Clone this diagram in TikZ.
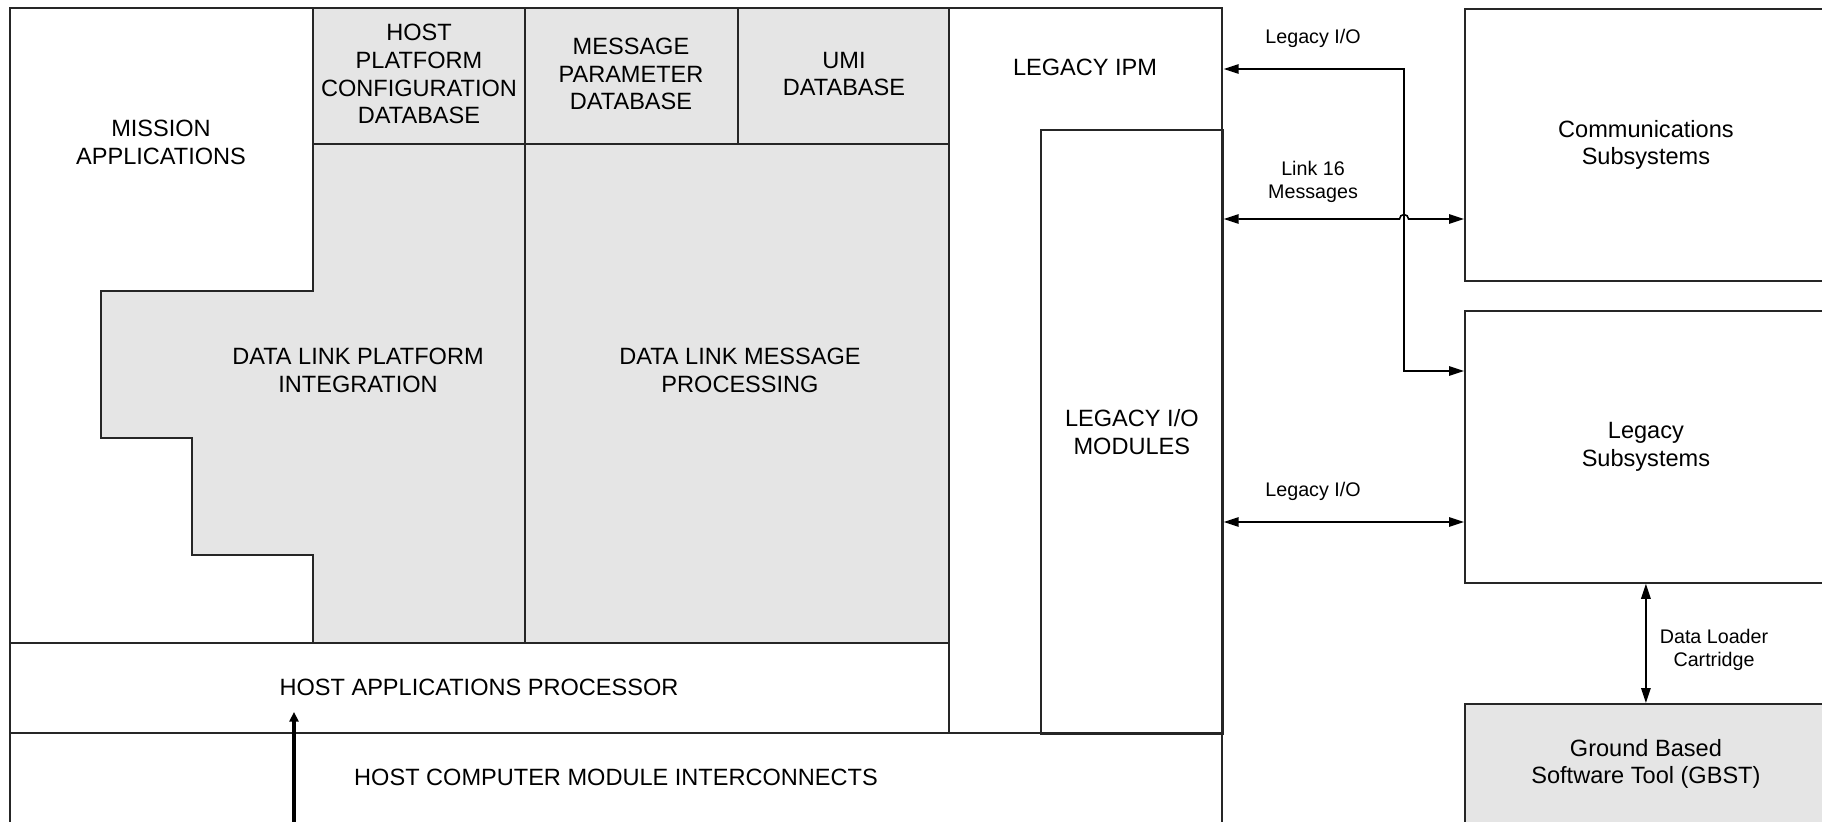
\documentclass[tikz,border=0pt]{standalone}
\usepackage{fontspec}
\setmainfont{Liberation Sans}
\usetikzlibrary{positioning, arrows.meta, calc}

\tikzset{
    blk/.style={draw=black!85, line width=.45pt},
    graybox/.style={fill=black!10},
    lbl/.style={align=center, font=\fontsize{6.7}{7.9}\selectfont},
    tag/.style={align=center, font=\fontsize{5.6}{6.6}\selectfont},
    sysbox/.style={blk, lbl, anchor=north west, inner sep=0pt, minimum width=3.62cm},
    link/.style={draw=black, line width=.45pt, <->},
}

\begin{document}
\begin{tikzpicture}[x=.01cm, y=-.01cm, >={Triangle[length=1.5mm,width=.95mm]}]
\useasboundingbox (0,0) rectangle (1822,821);
\clip (0,0) rectangle (1822,821);

% shaded parts
\fill[graybox] (313,8) rectangle (949,643);
\fill[graybox] (101,291) -- (313,291) -- (313,555) -- (192,555) -- (192,438) -- (101,438) -- cycle;

% host computer outline
\draw[blk] (10,8) rectangle (1222,840);
\draw[blk] (313,8) -- (313,291) -- (101,291) -- (101,438) -- (192,438) -- (192,555) -- (313,555) -- (313,643);
\draw[blk] (313,144) -- (949,144);
\draw[blk] (525,8) -- (525,643);
\draw[blk] (738,8) -- (738,144);
\draw[blk] (949,8) -- (949,733);
\draw[blk] (10,643) -- (949,643);
\draw[blk] (10,733) -- (1222,733);

\node[lbl] (mission) at (161,142) {MISSION\\APPLICATIONS};
\node[lbl] (hpcdb) at (419,74) {HOST\\PLATFORM\\CONFIGURATION\\DATABASE};
\node[lbl] (mpdb) at (631,74) {MESSAGE\\PARAMETER\\DATABASE};
\node[lbl] (umidb) at (844,74) {UMI\\DATABASE};
\node[lbl] (ipm) at (1085,67) {LEGACY IPM};
\node[lbl] (dlpi) at (358,370) {DATA LINK PLATFORM\\INTEGRATION};
\node[lbl] (dlmp) at (740,370) {DATA LINK MESSAGE\\PROCESSING};
\node[blk, lbl, anchor=north west, inner sep=0pt, minimum width=1.82cm, minimum height=6.04cm] (liom) at (1040,129) {LEGACY I/O\\MODULES};
\node[lbl] (hap) at (479,687) {HOST APPLICATIONS PROCESSOR};
\node[lbl] (hcmi) at (616,777) {HOST COMPUTER MODULE INTERCONNECTS};

% external systems
\node[sysbox, minimum height=2.72cm] (comm) at (1464,8) {Communications\\Subsystems};
\node[sysbox, minimum height=2.72cm] (legacy) at (1464,310) {Legacy\\Subsystems};
\node[sysbox, graybox, minimum height=1.2cm] (gbst) at (1464,703) {Ground Based\\Software Tool (GBST)};

\coordinate (ipmin) at (liom.east |- 0,69);
\coordinate (turn) at (1404,69);
\coordinate (legin) at (legacy.west |- 0,371);
\draw[link] (ipmin) -- (turn) -- (turn |- legin) -- (legin);
\draw[link] (liom.east |- 0,219) -- (1399.5,219) arc (180:360:4.5) -- (comm.west |- 0,219);
\draw[link] (liom.east |- 0,522) -- (legacy.west |- 0,522);
\draw[link] (legacy.south) -- (gbst.north);

\node[tag] (lio1) at (1313,38) {Legacy I/O};
\node[tag] (l16) at (1313,182) {Link 16\\Messages};
\node[tag] (lio2) at (1313,491) {Legacy I/O};
\node[tag] (dlc) at (1714,650) {Data Loader\\Cartridge};

\coordinate (feed) at (294,830);
\draw[->, line width=.9pt, >={Triangle[length=.95mm,width=.9mm]}] (feed) -- (294,712);
\end{tikzpicture}
\end{document}
